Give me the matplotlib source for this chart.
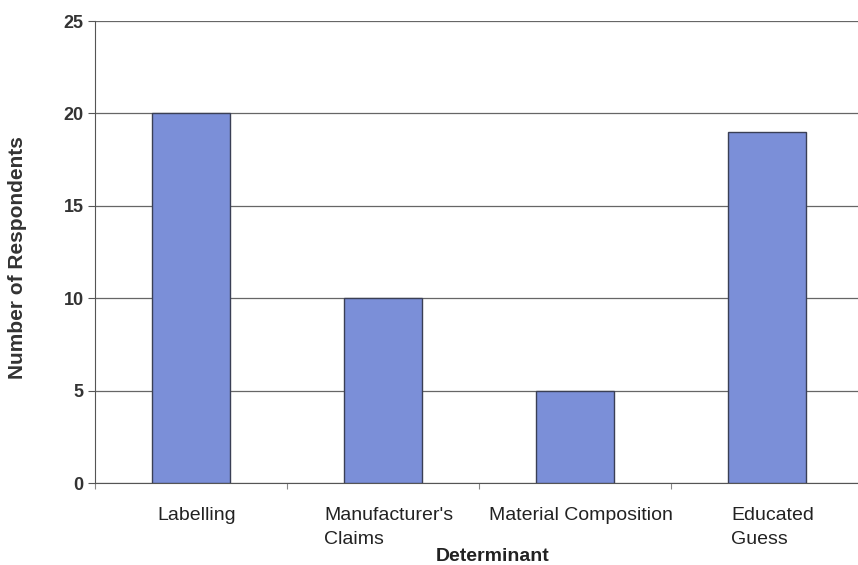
import numpy as np
import matplotlib.pyplot as plt

plt.rcParams['font.family'] = ['Liberation Sans', 'DejaVu Sans']

determinants = ["Labelling", "Manufacturer's\nClaims", "Material Composition", "Educated\nGuess"]
respondents = [20, 10, 5, 19]
y_ticks = [0, 5, 10, 15, 20, 25]

fig = plt.figure(figsize=(8.58, 5.65), dpi=100)
ax = fig.add_axes([0.1107, 0.1451, 0.895, 0.8177])

x = np.arange(len(determinants))
ax.bar(x, respondents, width=0.41, color="#7b8fd8", edgecolor="#3a3f55", linewidth=1.0, zorder=3)

ax.set_xlim(-0.5, len(determinants) - 0.5)
ax.set_ylim(0, 25)
ax.set_yticks(y_ticks)
ax.yaxis.grid(True, color="#666666", linewidth=0.9, zorder=0)
ax.set_axisbelow(True)

for side in ("top", "right"):
    ax.spines[side].set_visible(False)
ax.spines["left"].set_color("#555555")
ax.spines["bottom"].set_color("#555555")

# category boundaries carry the x ticks, labels sit at the centres
ax.set_xticks(np.arange(len(determinants) + 1) - 0.5)
ax.set_xticklabels([])
ax.tick_params(axis="x", length=4, color="#888888")
for xi, name in zip(x, determinants):
    ax.text(xi + 0.03, -1.3, name, ha="center", va="top", multialignment="left",
            fontsize=14, linespacing=1.55, color="#222222", transform=ax.transData)

ax.tick_params(axis="y", length=5, pad=3, color="#555555", labelsize=13, labelcolor="#333333")
for lbl in ax.get_yticklabels():
    lbl.set_fontweight("bold")

ax.set_ylabel("Number of Respondents", fontsize=15, fontweight="bold", color="#333333")
ax.yaxis.set_label_coords(-0.0885, 0.489)
ax.text(0.518, -0.141, "Determinant", transform=ax.transAxes, ha="center", va="top",
        fontsize=14, fontweight="bold", color="#222222")

fig.savefig("out.png", dpi=100)
